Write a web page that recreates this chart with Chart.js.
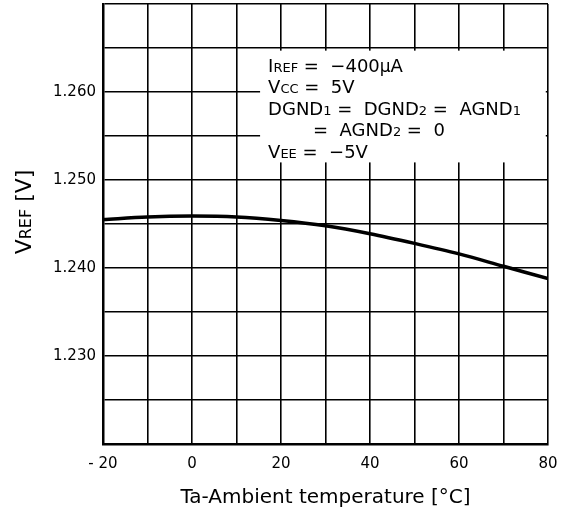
<!DOCTYPE html>
<html>
<head>
<meta charset="utf-8">
<script src="https://cdn.jsdelivr.net/npm/chart.js@4/dist/chart.umd.min.js"></script>
<style>
  html, body { margin: 0; padding: 0; background: #fff; }
  canvas { display: block; }
</style>
</head>
<body>
<canvas id="chart" width="565" height="517"></canvas>
<script>
const temperatures = [-20, -10, 0, 10, 20, 30, 40, 50, 60, 70, 80];
const vrefValues = [1.2455, 1.2458, 1.2459, 1.2458, 1.2454, 1.2448, 1.2439, 1.2428, 1.2416, 1.2402, 1.2388];
const yTickLabels = ['1.230', '1.240', '1.250', '1.260'];
const xTickLabels = ['- 20', '0', '20', '40', '60', '80'];

const FONT = "'DejaVu Sans', sans-serif";

// [text, size] runs, so the small caps and subscripts can be drawn
const noteLines = [
  { indent: 0, runs: [['I', 18], ['REF', 13], [' =  \u2212400', 18], ['\u03bc', 17], ['A', 18]] },
  { indent: 0, runs: [['V', 18], ['CC', 13], [' =  5V', 18]] },
  { indent: 0, runs: [['DGND', 18], ['1', 13], [' =  DGND', 18], ['2', 13], [' =  AGND', 18], ['1', 13]] },
  { indent: 45, runs: [['=  AGND', 18], ['2', 13], [' =  0', 18]] },
  { indent: 0, runs: [['V', 18], ['EE', 13], [' =  \u22125V', 18]] },
];
const yTitleRuns = [['V', 22], ['REF', 16], [' [V]', 22]];

const runsWidth = (ctx, runs) =>
  runs.reduce((w, [t, s]) => {
    ctx.font = `${s}px ${FONT}`;
    return w + ctx.measureText(t).width;
  }, 0);

const drawRuns = (ctx, runs, x, y) => {
  runs.forEach(([t, s]) => {
    ctx.font = `${s}px ${FONT}`;
    ctx.fillText(t, x, y);
    x += ctx.measureText(t).width;
  });
};

const notePlugin = {
  id: 'note',
  afterDatasetsDraw(chart) {
    const { ctx, scales: { x, y } } = chart;
    const left = x.getPixelForValue(15.3);
    const right = x.getPixelForValue(79.5);
    const top = y.getPixelForValue(1.2647);
    const bottom = y.getPixelForValue(1.2520);
    ctx.save();
    ctx.fillStyle = '#fff';
    ctx.fillRect(left, top, right - left, bottom - top);
    ctx.fillStyle = '#000';
    ctx.textBaseline = 'alphabetic';
    ctx.textAlign = 'left';
    noteLines.forEach((line, i) => {
      drawRuns(ctx, line.runs, left + 8 + line.indent, top + 21 + i * 21.5);
    });
    ctx.restore();
  },
  afterDraw(chart) {
    const { ctx, chartArea } = chart;
    ctx.save();
    ctx.fillStyle = '#000';
    ctx.textBaseline = 'alphabetic';
    ctx.textAlign = 'left';
    ctx.translate(23, (chartArea.top + chartArea.bottom) / 2 - 12);
    ctx.rotate(-Math.PI / 2);
    const w = runsWidth(ctx, yTitleRuns);
    drawRuns(ctx, yTitleRuns, -w / 2, 8);
    ctx.restore();
  },
};

new Chart(document.getElementById('chart'), {
  type: 'line',
  data: {
    datasets: [
      {
        data: temperatures.map((t, i) => ({ x: t, y: vrefValues[i] })),
        borderColor: '#000',
        borderWidth: 3.5,
        pointRadius: 0,
        cubicInterpolationMode: 'monotone',
        fill: false,
      },
    ],
  },
  options: {
    responsive: false,
    animation: false,
    layout: { padding: { top: 4, right: 17, left: 0, bottom: 0 } },
    plugins: {
      legend: { display: false },
      tooltip: { enabled: false },
    },
    scales: {
      x: {
        type: 'linear',
        min: -20,
        max: 80,
        afterFit: (scale) => {
          scale.height = 73;
          scale.paddingLeft = 0;
          scale.paddingRight = 0;
        },
        grid: { color: '#000', lineWidth: 1.6, drawTicks: false },
        border: { color: '#000', width: 2.5 },
        ticks: {
          stepSize: 10,
          autoSkip: false,
          maxRotation: 0,
          padding: 11,
          color: '#000',
          font: { family: FONT, size: 15 },
          callback: (v) => {
            const idx = (v + 20) / 20;
            return Number.isInteger(idx) ? xTickLabels[idx] : '';
          },
        },
        title: {
          display: true,
          text: 'Ta-Ambient temperature [°C]',
          color: '#000',
          font: { family: FONT, size: 20 },
          padding: { top: 0, bottom: 7 },
        },
      },
      y: {
        min: 1.22,
        max: 1.27,
        afterFit: (scale) => {
          scale.width = 103;
          scale.paddingTop = 0;
          scale.paddingBottom = 0;
        },
        grid: { color: '#000', lineWidth: 1.6, drawTicks: false },
        border: { color: '#000', width: 2.5 },
        ticks: {
          stepSize: 0.005,
          autoSkip: false,
          padding: 7,
          color: '#000',
          font: { family: FONT, size: 15 },
          callback: (v) => {
            const m = Math.round(v * 1000);
            const idx = (m - 1230) / 10;
            return Number.isInteger(idx) && idx >= 0 && idx < yTickLabels.length ? yTickLabels[idx] : '';
          },
        },
      },
    },
  },
  plugins: [notePlugin],
});
</script>
</body>
</html>
